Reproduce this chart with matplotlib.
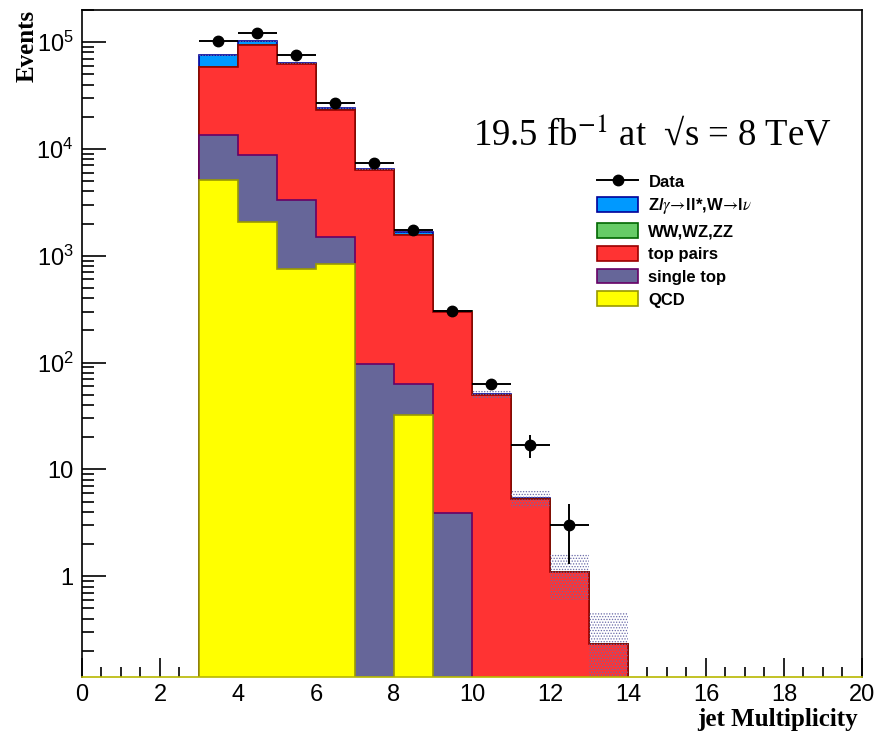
import numpy as np
import matplotlib
matplotlib.use('Agg')
import matplotlib.pyplot as plt
from matplotlib.patches import Patch
from matplotlib.lines import Line2D

plt.rcParams['font.family'] = ['Liberation Sans', 'DejaVu Sans']
plt.rcParams['mathtext.fontset'] = 'stix'
plt.rcParams['hatch.linewidth'] = 0.6

# jet multiplicity bins (lower edges), width 1
jet_bins = [3, 4, 5, 6, 7, 8, 9, 10, 11, 12, 13]

# MC components (events per bin)
qcd        = [5100, 2050, 760, 830, 0, 32, 0, 0, 0, 0, 0]
single_top = [8300, 6680, 2550, 685, 97, 31, 3.9, 0, 0, 0, 0]
top_pairs  = [45000, 84300, 59400, 21800, 6210, 1500, 296, 49.7, 5.3, 1.09, 0.23]
diboson    = [400, 300, 200, 80, 20, 5, 1, 0.2, 0.02, 0, 0]
z_w        = [16600, 8200, 1200, 820, 130, 110, 4, 0.6, 0.03, 0.01, 0.0]
mc_err     = [1500, 2000, 1200, 500, 130, 35, 8, 5, 1.0, 0.5, 0.23]

# data
data     = [1.02e5, 1.23e5, 7.6e4, 2.71e4, 7360, 1730, 307, 63, 17, 3]
data_err = [319, 351, 276, 165, 86, 42, 17.5, 7.9, 4.1, 1.7]

labels = ['QCD', 'single top', 'top pairs', 'WW,WZ,ZZ',
          r'Z/$\gamma\!\rightarrow\!$ll*,W$\!\rightarrow\!$l$\nu$']
faces = ['#ffff00', '#666699', '#ff3333', '#66cc66', '#0099ff']
edgec = ['#999900', '#660066', '#990000', '#006600', '#000099']

edges = np.array(jet_bins + [jet_bins[-1] + 1], dtype=float)
comps = [np.array(c, dtype=float) for c in [qcd, single_top, top_pairs, diboson, z_w]]
cums = np.cumsum(comps, axis=0)
floor = 1e-3

fig = plt.figure(figsize=(8.89, 7.33), dpi=100)
ax = fig.add_axes([0.0922, 0.0764, 0.8774, 0.91])
ax.set_yscale('log')

# draw stacked totals from top down, like THStack
for i in range(len(comps) - 1, -1, -1):
    ax.stairs(np.maximum(cums[i], floor), edges, baseline=floor, fill=True,
              facecolor=faces[i], edgecolor=edgec[i], linewidth=1.2, zorder=2)

# MC uncertainty band
tot = cums[-1]
err = np.array(mc_err)
ax.bar(edges[:-1], 2 * err, bottom=np.maximum(tot - err, floor), width=1, align='edge',
       facecolor='none', edgecolor='#6a6aa8', hatch='......', linewidth=0, zorder=3)

# data
xc = edges[:len(data)] + 0.5
ax.errorbar(xc, data, xerr=0.5, yerr=data_err, fmt='o', color='black', ms=7.5,
            elinewidth=1.4, capsize=0, zorder=5)

ax.set_xlim(0, 20)
ax.set_ylim(0.114, 2.0e5)

ax.set_xticks(np.arange(0, 21, 2))
ax.set_xticks(np.arange(0, 20.01, 0.5), minor=True)
ax.set_yticks([1, 10, 100, 1e3, 1e4, 1e5])
ax.set_yticklabels(['1', '10', r'$\mathdefault{10^{2}}$', r'$\mathdefault{10^{3}}$',
                    r'$\mathdefault{10^{4}}$', r'$\mathdefault{10^{5}}$'])
ax.yaxis.set_minor_locator(matplotlib.ticker.LogLocator(base=10, subs=np.arange(2, 10)))
ax.yaxis.set_minor_formatter(matplotlib.ticker.NullFormatter())
ax.tick_params(axis='both', which='both', direction='in', labelsize=17, top=False, right=False)
ax.tick_params(axis='y', which='major', length=17, width=1.2, pad=6)
ax.tick_params(axis='y', which='minor', length=8.5, width=1.2)
ax.tick_params(axis='x', which='major', length=13.5, width=1.2, pad=5)
ax.tick_params(axis='x', which='minor', length=7, width=1.2)
for s in ax.spines.values():
    s.set_linewidth(1.2)
ax.spines['bottom'].set_color('#b8b800')

ax.set_ylabel('Events', family=['Liberation Serif'], weight='bold', fontsize=18)
ax.yaxis.set_label_coords(-0.056, 1.0)
ax.yaxis.label.set_horizontalalignment('right')
ax.set_xlabel('jet Multiplicity', family=['Liberation Serif'], weight='bold', fontsize=18)
ax.xaxis.set_label_coords(0.995, -0.047)
ax.xaxis.label.set_horizontalalignment('right')

ax.text(0.501, 0.798, '19.5 fb$^{-1}$ at  \u221as = 8 TeV',
        family=['Liberation Serif', 'DejaVu Serif'], fontsize=26.5, transform=ax.transAxes)

handles = [Line2D([0], [0], color='black', marker='o', ms=7.5, lw=1.4)]
for i in range(len(comps) - 1, -1, -1):
    handles.append(Patch(facecolor=faces[i], edgecolor=edgec[i], linewidth=1.2))
leg_labels = ['Data'] + labels[::-1]
ax.legend(handles, leg_labels, loc='upper left', bbox_to_anchor=(0.66, 0.755),
          frameon=False, prop={'family': ['Liberation Sans', 'DejaVu Sans'],
                               'weight': 'bold', 'size': 12},
          handlelength=2.5, handleheight=1.0, labelspacing=0.4, handletextpad=0.6,
          borderpad=0, borderaxespad=0)

fig.savefig('out.png', dpi=100)
